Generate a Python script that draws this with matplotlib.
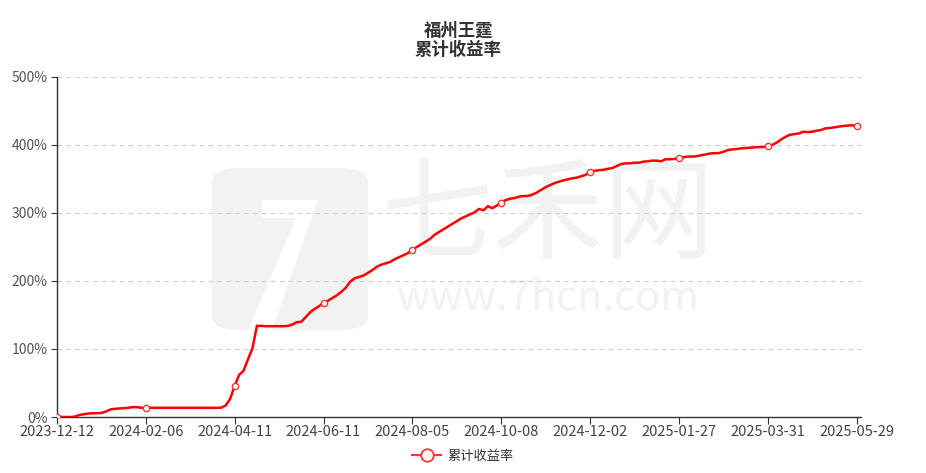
import matplotlib
matplotlib.use("Agg")
import matplotlib.pyplot as plt
from matplotlib.lines import Line2D
from matplotlib.patches import FancyBboxPatch, Polygon

plt.rcParams['font.family'] = ['Noto Sans CJK SC', 'DejaVu Sans']

title = "福州王霆\n累计收益率"
series_name = "累计收益率"
tick_labels = ["2023-12-12", "2024-02-06", "2024-04-11", "2024-06-11", "2024-08-05",
               "2024-10-08", "2024-12-02", "2025-01-27", "2025-03-31", "2025-05-29"]
points_per_tick = 20
y_ticks = [0, 100, 200, 300, 400, 500]

seg1 = [0, 0, 0, 0, 0.5, 3, 4, 5, 5.5, 5.5, 6, 8, 11, 12, 12.5, 13, 13.5, 14.5, 14.5, 13.5]
seg2 = [13.5, 13.5, 13.5, 13.5, 13.5, 13.5, 13.5, 13.5, 13.5, 13.5, 13.5, 13.5, 13.5, 13.5, 13.5, 13.5,
        13.5, 13.8, 17, 27]
seg3 = [46, 62, 68, 85, 101, 134, 134, 133.5, 133.5, 133.5, 133.5, 133.5, 134, 136, 139.5, 140, 147, 154,
        159, 163]
seg4 = [168, 171, 175, 179, 184, 190, 199, 204, 206, 208, 212, 216, 221, 224, 226, 228, 232, 235, 238, 241]
seg5 = [246, 250, 254, 258, 262, 268, 272, 276, 280, 284, 288, 292, 295, 298, 301, 306, 304, 310, 307, 311]
seg6 = [315, 319, 321, 322, 324, 325, 325, 327, 330, 334, 338, 341, 344, 346, 348, 349.5, 351, 352, 354, 356]
seg7 = [361, 362, 363, 363.5, 365, 366, 369, 372, 373, 373, 374, 374, 375.5, 376, 377, 377, 376, 379, 379,
        379.5]
seg8 = [381, 382, 383, 383, 383.5, 385, 386, 387.5, 388, 388, 390, 392.5, 393.5, 394, 395, 395.5, 396, 396.5,
        397, 397]
seg9 = [398, 400, 403.5, 408, 412, 415, 416, 417, 419.5, 419, 419.5, 421, 422, 424.5, 425, 426, 427, 428,
        428.5, 429]
tail = [428.5, 428]

values = seg1 + seg2 + seg3 + seg4 + seg5 + seg6 + seg7 + seg8 + seg9 + tail
x = list(range(len(values)))
tick_pos = [i * points_per_tick for i in range(len(tick_labels))]

W, H = 926, 473
fig = plt.figure(figsize=(W / 100, H / 100), dpi=100)

# watermark (logo block + text), in figure pixel coordinates, drawn beneath the axes
wm = "#f2f2f2"
logo = FancyBboxPatch((212 / W, (H - 330) / H), 156 / W, 162 / H,
                      boxstyle="round,pad=0,rounding_size=0.03", transform=fig.transFigure,
                      facecolor=wm, edgecolor="none", zorder=-2)
fig.patches.append(logo)
cut = Polygon([(262 / W, (H - 200) / H), (318 / W, (H - 200) / H), (272 / W, (H - 330) / H),
               (248 / W, (H - 330) / H), (296 / W, (H - 218) / H), (262 / W, (H - 218) / H)],
              closed=True, transform=fig.transFigure, facecolor="white", edgecolor="none", zorder=-1)
fig.patches.append(cut)
fig.text(548 / W, (H - 218) / H, "七禾网", fontsize=80, color=wm, ha="center", va="center", zorder=-1)
fig.text(548 / W, (H - 298) / H, "www.7hcn.com", fontsize=30, color=wm, ha="center", va="center",
         zorder=-1)

ax = fig.add_axes([57 / W, 56 / H, (861 - 57) / W, 340 / H])
ax.set_zorder(1)
ax.set_facecolor("none")
ax.plot(x, values, color="#ff0000", linewidth=1.8, zorder=3, solid_joinstyle="round")
ax.plot(tick_pos, [values[p] for p in tick_pos], linestyle="none", marker="o", markersize=4.5,
        markerfacecolor="white", markeredgecolor="#ff3333", markeredgewidth=1.0, zorder=4)

ax.set_xlim(0, len(values) - 1)
ax.set_ylim(0, 500)
ax.set_yticks(y_ticks)
ax.set_yticklabels([f"{v}%" for v in y_ticks])
ax.set_xticks(tick_pos)
ax.set_xticklabels(tick_labels)

for v in y_ticks[1:]:
    ax.axhline(v, color="#cccccc", linewidth=0.8, linestyle=(0, (4, 4)), zorder=1)

for s in ["top", "right"]:
    ax.spines[s].set_visible(False)
for s in ["left", "bottom"]:
    ax.spines[s].set_color("#333333")
    ax.spines[s].set_linewidth(1.0)

ax.tick_params(axis="x", colors="#333333", labelcolor="#444444", labelsize=10.5, length=5, pad=1)
ax.tick_params(axis="y", colors="#333333", labelcolor="#555555", labelsize=10, length=4, pad=3)

fig.text(0.495, 0.915, title, ha="center", va="center", fontsize=12.5, fontweight="bold",
         color="#333333", linespacing=1.05)

handle = Line2D([0], [0], color="#ff3333", linewidth=1.5, marker="o", markersize=9,
                markerfacecolor="white", markeredgecolor="#ff3333", markeredgewidth=1.3)
fig.legend([handle], [series_name], loc="center", bbox_to_anchor=(0.5, 0.035), frameon=False,
           fontsize=9.5, handlelength=2.2, handletextpad=0.5, labelcolor="#333333")

fig.savefig("out.png", dpi=100)
